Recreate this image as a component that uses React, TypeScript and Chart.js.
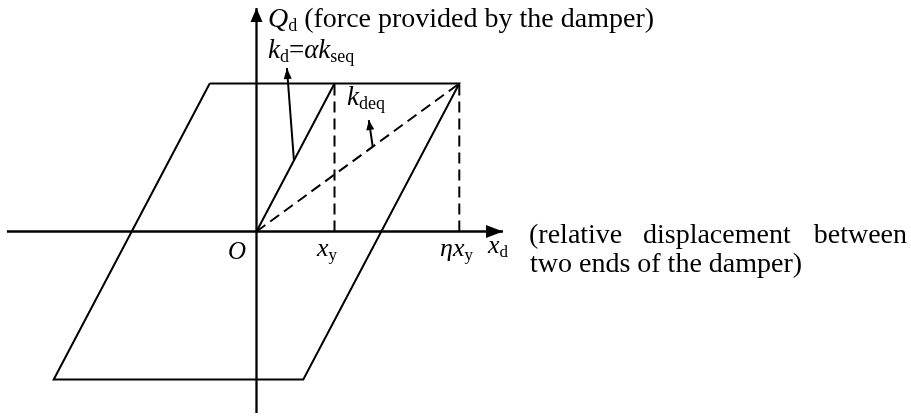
import { useEffect, useRef } from "react";
import { Chart, registerables } from "chart.js";

Chart.register(...registerables);

// Damper hysteresis loop: x in units of x_y, Q in units of the yield force.
const eta = 2.6;
const loopX = [-0.6, 2.6, 0.6, -2.6, -0.6];
const loopY = [1, 1, -1, -1, 1];
const kdLineX = [0, 1];
const kdLineY = [0, 1];
const secantX = [0, eta];
const secantY = [0, 1];
const yieldGuideX = [1, 1];
const peakGuideX = [eta, eta];
const guideY = [0, 1];
const xAxisX = [-3.2, 3.16];
const xAxisY = [0, 0];
const yAxisX = [0, 0];
const yAxisY = [-1.226, 1.51];
const kdPointerX = [0.48, 0.39];
const kdPointerY = [0.48, 1.105];
const kdeqPointerX = [1.49, 1.44];
const kdeqPointerY = [0.573, 0.753];

const FONT = '"Liberation Serif", "Times New Roman", serif';

type Run = { t: string; it?: boolean; sub?: boolean; size: number };
type Label = { x: number; y: number; runs: Run[]; align?: "left" | "right" };

const labels: Label[] = [
  {
    x: 0.147, y: 1.382,
    runs: [
      { t: "Q", it: true, size: 28 },
      { t: "d", sub: true, size: 18 },
      { t: " (force provided by the damper)", size: 28 },
    ],
  },
  {
    x: 0.147, y: 1.172,
    runs: [
      { t: "k", it: true, size: 27 },
      { t: "d", sub: true, size: 18 },
      { t: "=", size: 27 },
      { t: "α", it: true, size: 27 },
      { t: "k", it: true, size: 27 },
      { t: "seq", sub: true, size: 18 },
    ],
  },
  {
    x: 1.16, y: 0.855,
    runs: [
      { t: "k", it: true, size: 27 },
      { t: "deq", sub: true, size: 18 },
    ],
  },
  { x: -0.365, y: -0.186, runs: [{ t: "O", it: true, size: 25 }] },
  {
    x: 0.776, y: -0.166,
    runs: [
      { t: "x", it: true, size: 26 },
      { t: "y", sub: true, size: 17 },
    ],
  },
  {
    x: 2.353, y: -0.166,
    runs: [
      { t: "ηx", it: true, size: 26 },
      { t: "y", sub: true, size: 17 },
    ],
  },
  {
    x: 2.968, y: -0.145,
    runs: [
      { t: "x", it: true, size: 26 },
      { t: "d", sub: true, size: 17 },
    ],
  },
  { x: 3.494, y: -0.078, runs: [{ t: "(relative", size: 28 }] },
  { x: 4.955, y: -0.078, runs: [{ t: "displacement", size: 28 }] },
  { x: 8.34, y: -0.078, runs: [{ t: "between", size: 28 }], align: "right" },
  { x: 3.506, y: -0.274, runs: [{ t: "two ends of the damper)", size: 28 }] },
];

const pts = (xs: number[], ys: number[]) => xs.map((x, i) => ({ x, y: ys[i] }));

const arrowPlugin = {
  id: "arrowHeads",
  afterDatasetsDraw(chart: any) {
    const ctx = chart.ctx;
    chart.data.datasets.forEach((ds: any, i: number) => {
      if (!ds.arrowHead) return;
      const meta = chart.getDatasetMeta(i);
      const n = meta.data.length;
      const a = meta.data[n - 2];
      const b = meta.data[n - 1];
      const ang = Math.atan2(b.y - a.y, b.x - a.x);
      const { len, half } = ds.arrowHead;
      ctx.save();
      ctx.fillStyle = "#000";
      ctx.beginPath();
      ctx.moveTo(b.x, b.y);
      ctx.lineTo(
        b.x - len * Math.cos(ang) + half * Math.sin(ang),
        b.y - len * Math.sin(ang) - half * Math.cos(ang)
      );
      ctx.lineTo(
        b.x - len * Math.cos(ang) - half * Math.sin(ang),
        b.y - len * Math.sin(ang) + half * Math.cos(ang)
      );
      ctx.closePath();
      ctx.fill();
      ctx.restore();
    });
  },
};

const textPlugin = {
  id: "mathLabels",
  afterDraw(chart: any) {
    const ctx = chart.ctx;
    const xs = chart.scales.x;
    const ys = chart.scales.y;
    ctx.save();
    ctx.fillStyle = "#000";
    ctx.textBaseline = "alphabetic";
    ctx.textAlign = "left";
    labels.forEach((lab) => {
      const fontOf = (r: Run) => `${r.it ? "italic " : ""}${r.size}px ${FONT}`;
      let total = 0;
      lab.runs.forEach((r) => {
        ctx.font = fontOf(r);
        total += ctx.measureText(r.t).width;
      });
      let px = xs.getPixelForValue(lab.x);
      if (lab.align === "right") px -= total;
      const py = ys.getPixelForValue(lab.y);
      lab.runs.forEach((r) => {
        ctx.font = fontOf(r);
        ctx.fillText(r.t, px, py + (r.sub ? 4 : 0));
        px += ctx.measureText(r.t).width;
      });
    });
    ctx.restore();
  },
};

export default function App() {
  const ref = useRef<HTMLCanvasElement | null>(null);

  useEffect(() => {
    if (!ref.current) return;
    const solid = { borderColor: "#000", borderWidth: 2, fill: false, pointRadius: 0, tension: 0 };
    const dashed = { ...solid, borderDash: [11, 6] };
    const chart = new Chart(ref.current, {
      type: "scatter",
      data: {
        datasets: [
          { ...solid, showLine: true, borderWidth: 2.3, data: pts(xAxisX, xAxisY), arrowHead: { len: 17, half: 6.5 } } as any,
          { ...solid, showLine: true, borderWidth: 2.3, data: pts(yAxisX, yAxisY), arrowHead: { len: 14, half: 6 } } as any,
          { ...solid, showLine: true, data: pts(loopX, loopY) },
          { ...solid, showLine: true, data: pts(kdLineX, kdLineY) },
          { ...dashed, showLine: true, data: pts(secantX, secantY) },
          { ...dashed, showLine: true, data: pts(yieldGuideX, guideY) },
          { ...dashed, showLine: true, data: pts(peakGuideX, guideY) },
          { ...solid, showLine: true, data: pts(kdPointerX, kdPointerY), arrowHead: { len: 11, half: 4 } } as any,
          { ...solid, showLine: true, data: pts(kdeqPointerX, kdeqPointerY), arrowHead: { len: 10, half: 4 } } as any,
        ],
      },
      options: {
        animation: false,
        responsive: true,
        maintainAspectRatio: false,
        events: [],
        layout: { padding: 0 },
        plugins: { legend: { display: false }, tooltip: { enabled: false } },
        scales: {
          x: { type: "linear", display: false, min: -256.5 / 78, max: (911 - 256.5) / 78 },
          y: { type: "linear", display: false, min: -(418 - 231.5) / 148, max: 231.5 / 148 },
        },
      },
      plugins: [arrowPlugin, textPlugin],
    });
    return () => chart.destroy();
  }, []);

  return (
    <div style={{ position: "absolute", left: 0, top: 0, width: 911, height: 418, background: "#fff" }}>
      <canvas ref={ref} />
    </div>
  );
}
